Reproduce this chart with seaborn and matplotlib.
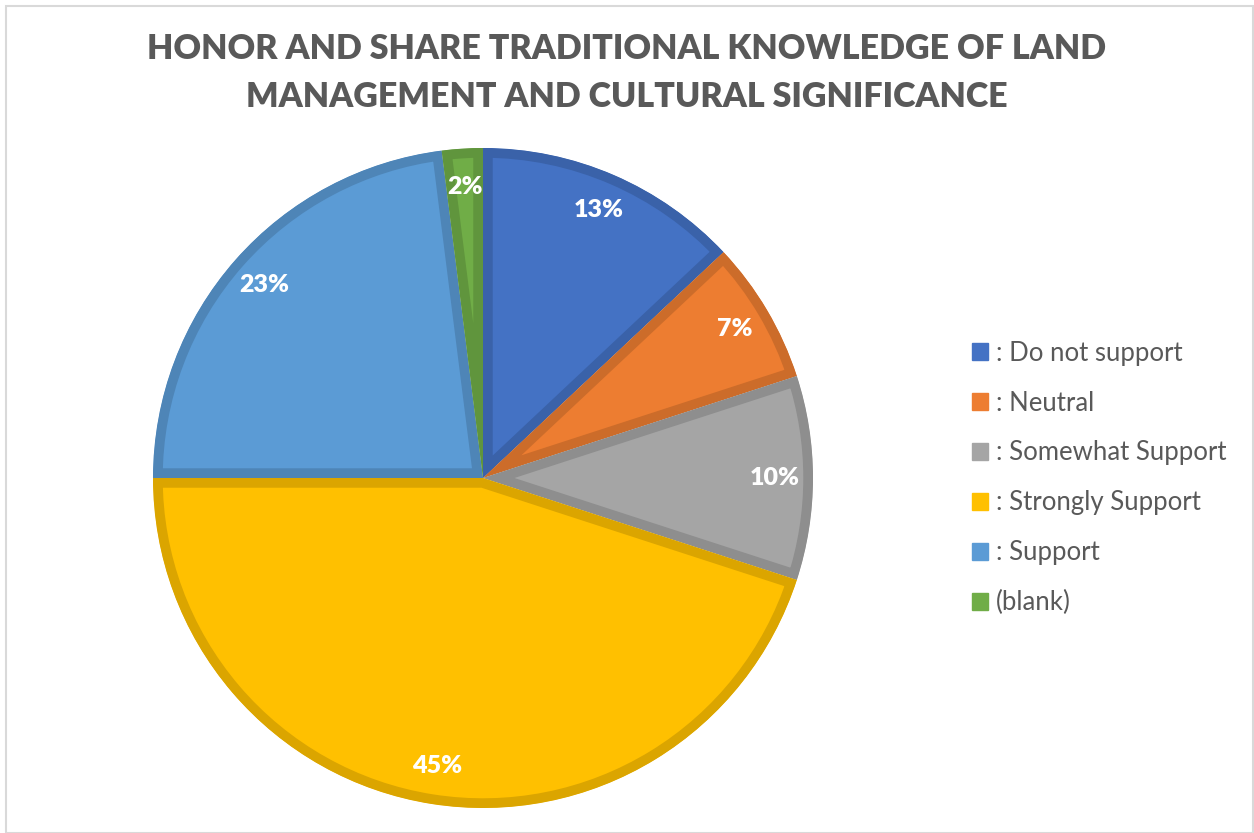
import matplotlib
matplotlib.use("Agg")
import matplotlib.pyplot as plt
import seaborn as sns
import numpy as np
from matplotlib.patches import Rectangle

categories = [": Do not support", ": Neutral", ": Somewhat Support", ": Strongly Support", ": Support", "(blank)"]
values = [13, 7, 10, 45, 23, 2]
colors_hex = ["#4472C4", "#ED7D31", "#A5A5A5", "#FFC000", "#5B9BD5", "#70AD47"]
title = "HONOR AND SHARE TRADITIONAL KNOWLEDGE OF LAND\nMANAGEMENT AND CULTURAL SIGNIFICANCE"

sns.set_theme(style="white")
plt.rcParams['font.family'] = ['Lato', 'DejaVu Sans']

palette = sns.color_palette(colors_hex)
edge_cols = [tuple(c * 0.86 for c in col) for col in palette]

W, H = 1254, 833
fig = plt.figure(figsize=(W / 100, H / 100), dpi=100)
fig.patch.set_facecolor("white")
fig.patches.append(Rectangle((6 / W, 0), (W - 7) / W, (H - 6) / H, transform=fig.transFigure,
                             fill=False, edgecolor="#D9D9D9", linewidth=1.5))

cx, cy, r = 483, 478, 330
ax = fig.add_axes([(cx - r) / W, (H - cy - r) / H, 2 * r / W, 2 * r / H])
wedges, texts, autotexts = ax.pie(values, colors=palette, startangle=90, counterclock=False,
                                  autopct="%1.0f%%", pctdistance=0.885, radius=1.0,
                                  textprops=dict(color="white", fontsize=18, fontweight="heavy"))
for w, ec in zip(wedges, edge_cols):
    w.set_edgecolor(ec)
    w.set_linewidth(14)
    w.set_clip_on(True)
    w.set_clip_path(w.get_path(), w.get_transform())
    w.set_joinstyle("miter")
ax.set_xlim(-1, 1)
ax.set_ylim(-1, 1)
ax.set_aspect("equal")
ax.axis("off")

fig.text(0.5, 1 - 73 / H, title, ha="center", va="center", fontsize=24.5, fontweight="heavy",
         color="#595959", linespacing=1.58)

handles = [Rectangle((0, 0), 1, 1, facecolor=c, edgecolor=c) for c in palette]
leg = fig.legend(handles, categories, loc="center left", bbox_to_anchor=(972 / W, 1 - 478 / H),
                 frameon=False, fontsize=18.5, handlelength=0.62, handleheight=0.62,
                 handletextpad=0.3, labelspacing=0.97, borderpad=0, borderaxespad=0,
                 labelcolor="#595959")

fig.savefig("out.png", dpi=100, facecolor="white")
